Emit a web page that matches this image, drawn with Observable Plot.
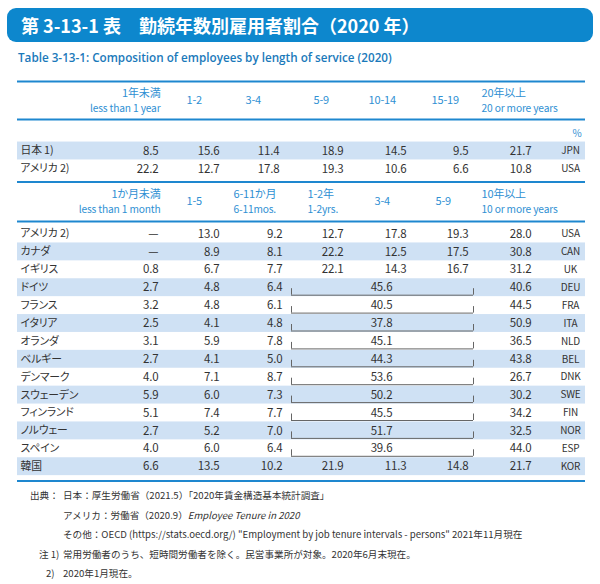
<!DOCTYPE html>
<html><head><meta charset="utf-8">
<script src="https://cdn.jsdelivr.net/npm/d3@7"></script>
<script src="https://cdn.jsdelivr.net/npm/@observablehq/plot@0.6"></script>
<style>
html,body{margin:0;padding:0;background:#fff;}
body{width:600px;height:584px;overflow:hidden;font-family:"Noto Sans CJK JP",sans-serif;color:#333;}
#title{margin:8px 7px 0 7px;height:34px;background:#0d87cd;border-radius:9px;color:#fff;font-family:"Noto Sans CJK JP",sans-serif;font-weight:bold;font-size:18px;line-height:34px;padding-left:14px;box-sizing:border-box;white-space:pre;}
#subtitle{height:28px;line-height:30px;padding-left:18px;font-family:"Open Sans",sans-serif;font-size:11.7px;font-weight:600;color:#1a79ba;box-sizing:border-box;}
#chart svg{display:block;}
#foot{font-size:9.6px;color:#333;font-family:"Noto Sans CJK JP",sans-serif;}
#foot div{height:19.5px;line-height:19.5px;white-space:nowrap;position:relative;}
#foot .lab{position:absolute;}
#foot .txt{position:absolute;left:63px;}
</style>
</head><body>
<div id="title">第 3-13-1 表　勤続年数別雇用者割合（2020 年）</div>
<div id="subtitle">Table 3-13-1: Composition of employees by length of service (2020)</div>
<div id="chart"></div>
<div id="foot">
  <div><span class="lab" style="left:30px">出典：</span><span class="txt">日本：厚生労働省（2021.5）「2020年賃金構造基本統計調査」</span></div>
  <div><span class="txt">アメリカ：労働省（2020.9）<i>Employee Tenure in 2020</i></span></div>
  <div><span class="txt">その他：OECD (https://stats.oecd.org/) "Employment by job tenure intervals - persons" 2021年11月現在</span></div>
  <div><span class="lab" style="left:39px">注 1)</span><span class="txt">常用労働者のうち、短時間労働者を除く。民営事業所が対象。2020年6月末現在。</span></div>
  <div><span class="lab" style="left:46px">2)</span><span class="txt">2020年1月現在。</span></div>
</div>
<script>
// ---------- DATA ----------
const headers1Ja = ["1年未満", "1-2", "3-4", "5-9", "10-14", "15-19", "20年以上"];
const headers1En = ["less than 1 year", null, null, null, null, null, "20 or more years"];
const countries1 = ["日本 1)", "アメリカ 2)"];
const codes1 = ["JPN", "USA"];
const values1 = [
  [8.5, 15.6, 11.4, 18.9, 14.5, 9.5, 21.7],
  [22.2, 12.7, 17.8, 19.3, 10.6, 6.6, 10.8]
];

const headers2Ja = ["1か月未満", "1-5", "6-11か月", "1-2年", "3-4", "5-9", "10年以上"];
const headers2En = ["less than 1 month", null, "6-11mos.", "1-2yrs.", null, null, "10 or more years"];
const countries2 = ["アメリカ 2)", "カナダ", "イギリス", "ドイツ", "フランス", "イタリア", "オランダ", "ベルギー", "デンマーク", "スウェーデン", "フィンランド", "ノルウェー", "スペイン", "韓国"];
const codes2 = ["USA", "CAN", "UK", "DEU", "FRA", "ITA", "NLD", "BEL", "DNK", "SWE", "FIN", "NOR", "ESP", "KOR"];
// null = not available ("—"); undefined = merged into the 1-9 years group
const values2 = [
  [null, 13.0, 9.2, 12.7, 17.8, 19.3, 28.0],
  [null, 8.9, 8.1, 22.2, 12.5, 17.5, 30.8],
  [0.8, 6.7, 7.7, 22.1, 14.3, 16.7, 31.2],
  [2.7, 4.8, 6.4, undefined, undefined, undefined, 40.6],
  [3.2, 4.8, 6.1, undefined, undefined, undefined, 44.5],
  [2.5, 4.1, 4.8, undefined, undefined, undefined, 50.9],
  [3.1, 5.9, 7.8, undefined, undefined, undefined, 36.5],
  [2.7, 4.1, 5.0, undefined, undefined, undefined, 43.8],
  [4.0, 7.1, 8.7, undefined, undefined, undefined, 26.7],
  [5.9, 6.0, 7.3, undefined, undefined, undefined, 30.2],
  [5.1, 7.4, 7.7, undefined, undefined, undefined, 34.2],
  [2.7, 5.2, 7.0, undefined, undefined, undefined, 32.5],
  [4.0, 6.0, 6.4, undefined, undefined, undefined, 44.0],
  [6.6, 13.5, 10.2, 21.9, 11.3, 14.8, 21.7]
];
// 1-9 years combined (1-2, 3-4, 5-9)
const merged2 = [null, null, null, 45.6, 40.5, 37.8, 45.1, 44.3, 53.6, 50.2, 45.5, 51.7, 39.6, null];
const unitLabel = "%";

// ---------- LAYOUT ----------
const W = 600, H = 416, rowH = 17.9;
const xL = 17, xR = 585;
const sec1 = {top: 11, h1: 22.5, h2: 38, hm: 30, line: 49, pct: 63, row0: 80.5};
const sec2 = {top: 111.5, h1: 123.5, h2: 139, hm: 131, line: 151, row0: 163.5, bottom: 410.5};
const colRight1 = [158, 219, 279, 343, 406, 468, 531];
const colRight2 = [158, 219, 282, 343, 406, 468, 531];
const hdrLeft1 = [160, 186, 245, 313, 368, 431, 481];
const hdrLeft2 = [160, 186, 233, 307, 374, 435, 481];
const labelX = 20, codeX = 570, mergedX = 381, brL = 291, brR = 473;
const blue = "#1e87cf", hdrBlue = "#2f90d3", band = "#cfe1f4", ink = "#333";
const font = '"Noto Sans CJK JP",sans-serif';
const fsJa = 11, fsEn = 10.2;

const fmt = v => v == null ? "—" : v.toFixed(1);

// build records
const bands = [], lines = [], cells = [], labels = [], codes = [], merged = [], brH = [], brV = [];
const hdrEnd = [], hdrStart = [];

function headers(ja, en, left, s) {
  ja.forEach((t, i) => {
    const two = en[i] != null;
    const rec = (txt, y, fs) => (i === 0 ? hdrEnd : hdrStart).push({x: left[i], y, text: txt, fs});
    if (two) { rec(t, s.h1, fsJa); rec(en[i], s.h2, fsEn); } else rec(t, s.hm, fsJa);
  });
}
headers(headers1Ja, headers1En, hdrLeft1, sec1);
headers(headers2Ja, headers2En, hdrLeft2, sec2);
lines.push(sec1.top, sec1.line, sec2.top, sec2.line, sec2.bottom);

countries1.forEach((c, r) => {
  const y = sec1.row0 + r * rowH;
  if (r % 2 === 0) bands.push({y1: y - rowH / 2, y2: y + rowH / 2});
  labels.push({y, text: c});
  codes.push({y, text: codes1[r]});
  values1[r].forEach((v, i) => cells.push({x: colRight1[i], y, text: fmt(v)}));
});
countries2.forEach((c, r) => {
  const y = sec2.row0 + r * rowH;
  if (r % 2 === 1) bands.push({y1: y - rowH / 2, y2: y + rowH / 2});
  labels.push({y, text: c});
  codes.push({y, text: codes2[r]});
  values2[r].forEach((v, i) => { if (v !== undefined) cells.push({x: colRight2[i], y, text: fmt(v)}); });
  if (merged2[r] != null) {
    merged.push({y, text: fmt(merged2[r])});
    brH.push({y: y + 7.5});
    brV.push({x: brL, y1: y + 1, y2: y + 7.5}, {x: brR, y1: y + 1, y2: y + 7.5});
  }
});

const chart = Plot.plot({
  width: W, height: H, margin: 0,
  x: {type: "linear", domain: [0, W], range: [0, W], axis: null},
  y: {type: "linear", domain: [0, H], range: [0, H], axis: null},
  style: {fontFamily: font, background: "#fff", fontFeatureSettings: '"palt"', letterSpacing: "-0.15px"},
  marks: [
    Plot.rectY(bands, {x1: xL, x2: xR, y1: "y1", y2: "y2", fill: band}),
    Plot.ruleY(lines, {y: d => d, x1: xL, x2: xR, stroke: blue, strokeWidth: 2}),
    Plot.ruleY(brH, {y: "y", x1: brL, x2: brR, stroke: "#666", strokeWidth: 1}),
    Plot.ruleX(brV, {x: "x", y1: "y1", y2: "y2", stroke: "#666", strokeWidth: 1}),
    Plot.text(hdrEnd, {x: "x", y: "y", text: "text", textAnchor: "end", fill: hdrBlue, fontSize: "fs"}),
    Plot.text(hdrStart, {x: "x", y: "y", text: "text", textAnchor: "start", fill: hdrBlue, fontSize: "fs"}),
    Plot.text([unitLabel], {x: 581, y: sec1.pct, text: d => d, textAnchor: "end", fill: hdrBlue, fontSize: 10}),
    Plot.text(labels, {x: labelX, y: "y", text: "text", textAnchor: "start", fill: ink, fontSize: 10.8}),
    Plot.text(cells, {x: "x", y: "y", text: "text", textAnchor: "end", fill: ink, fontSize: 11.5}),
    Plot.text(merged, {x: mergedX, y: "y", text: "text", textAnchor: "middle", fill: ink, fontSize: 11.5}),
    Plot.text(codes, {x: codeX, y: "y", text: "text", textAnchor: "middle", fill: ink, fontSize: 10})
  ]
});
document.getElementById("chart").appendChild(chart);
</script>
</body></html>
